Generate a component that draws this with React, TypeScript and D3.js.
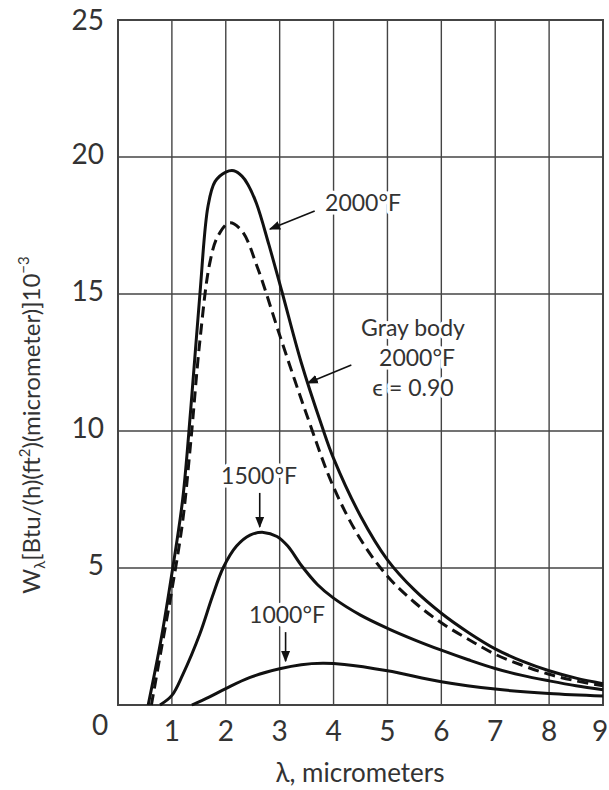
import * as d3 from "d3";

const W = 609;
const H = 790;

// wavelength (micrometers) / W_lambda values (x 10^-3)
const black2000X = [0.56, 0.8, 1.0, 1.2, 1.35, 1.52, 1.67, 1.8, 2.0, 2.15, 2.3, 2.41, 2.57, 2.8, 3.04, 3.4, 3.78, 4.0, 4.5, 5.0, 5.5, 6.0, 6.5, 7.0, 7.5, 8.0, 8.5, 9.0];
const black2000Y = [0, 2.4, 4.8, 7.5, 10.8, 15.0, 18.2, 19.1, 19.45, 19.5, 19.3, 19.0, 18.3, 16.8, 15.1, 12.5, 10.2, 9.0, 6.9, 5.3, 4.2, 3.35, 2.65, 2.05, 1.6, 1.25, 0.98, 0.78];

const gray2000X = [0.62, 0.8, 1.0, 1.2, 1.35, 1.52, 1.7, 1.85, 2.07, 2.3, 2.6, 3.0, 3.5, 4.0, 4.5, 5.0, 5.5, 6.0, 6.5, 7.0, 7.5, 8.0, 8.5, 9.0];
const gray2000Y = [0, 2.0, 4.2, 6.7, 9.6, 13.3, 16.1, 17.1, 17.6, 17.3, 15.9, 13.5, 10.6, 7.95, 6.05, 4.7, 3.75, 3.0, 2.4, 1.85, 1.45, 1.12, 0.88, 0.7];

const black1500X = [0.78, 1.0, 1.2, 1.52, 1.75, 1.95, 2.2, 2.45, 2.7, 2.95, 3.15, 3.4, 3.7, 4.0, 4.5, 5.0, 5.5, 6.0, 6.5, 7.0, 7.5, 8.0, 8.5, 9.0];
const black1500Y = [0, 0.35, 1.1, 2.6, 3.95, 5.0, 5.8, 6.2, 6.3, 6.15, 5.8, 5.1, 4.4, 3.9, 3.28, 2.8, 2.38, 2.0, 1.65, 1.33, 1.08, 0.88, 0.7, 0.56];

const black1000X = [1.37, 1.7, 2.0, 2.44, 3.0, 3.4, 3.8, 4.2, 5.0, 6.0, 7.0, 8.0, 9.0];
const black1000Y = [0, 0.3, 0.6, 1.0, 1.32, 1.47, 1.52, 1.48, 1.25, 0.85, 0.58, 0.42, 0.33];

const xTicks = [1, 2, 3, 4, 5, 6, 7, 8, 9];
const yTicks = [5, 10, 15, 20, 25];
const xGrid = [1, 2, 3, 4, 5, 6, 7, 8];
const yGrid = [5, 10, 15, 20];

const font = "Lato, 'Open Sans', sans-serif";

const x = d3.scaleLinear().domain([0, 9]).range([118, 603]);
const y = d3.scaleLinear().domain([0, 25]).range([705, 20]);

const line = d3
  .line<[number, number]>()
  .x((d) => x(d[0]))
  .y((d) => y(d[1]))
  .curve(d3.curveCatmullRom.alpha(0.5));

const pts = (xs: number[], ys: number[]) => xs.map((v, i) => [v, ys[i]] as [number, number]);

// arrows: [fromX, fromY, toX, toY] in data units
const arrows = [
  [3.65, 18.03, 2.82, 17.37],
  [4.33, 12.41, 3.52, 11.75],
  [2.63, 7.74, 2.63, 6.5],
  [3.11, 2.66, 3.11, 1.6],
];

const haloText = {
  stroke: "#fff",
  strokeWidth: 7,
  paintOrder: "stroke" as const,
  strokeLinejoin: "round" as const,
};

export default function App() {
  return (
    <svg
      width={W}
      height={H}
      style={{ position: "absolute", left: 0, top: 0, background: "#fff" }}
      fontFamily={font}
    >
      <defs>
        <marker id="ah" viewBox="0 0 10 10" refX="9" refY="5" markerWidth="7" markerHeight="7" orient="auto">
          <path d="M0,1 L10,5 L0,9 Z" fill="#111" />
        </marker>
      </defs>

      {/* grid */}
      <g stroke="#444" strokeWidth={1.4}>
        {xGrid.map((t) => (
          <line key={"gx" + t} x1={x(t)} x2={x(t)} y1={y(0)} y2={y(25)} />
        ))}
        {yGrid.map((t) => (
          <line key={"gy" + t} x1={x(0)} x2={x(9)} y1={y(t)} y2={y(t)} />
        ))}
      </g>
      <rect x={x(0)} y={y(25)} width={x(9) - x(0)} height={y(0) - y(25)} fill="none" stroke="#444" strokeWidth={2} />

      {/* labels that break the grid */}
      <g fontSize={23} fill="#333" textAnchor="middle" style={haloText}>
        <text x={363} y={205} dominantBaseline="middle">2000°F</text>
        <text x={413} y={330} dominantBaseline="middle">Gray body</text>
        <text x={417} y={360} dominantBaseline="middle">2000°F</text>
        <text x={413} y={390} dominantBaseline="middle">ϵ = 0.90</text>
        <text x={259} y={478} dominantBaseline="middle">1500°F</text>
        <text x={287} y={617} dominantBaseline="middle">1000°F</text>
      </g>

      {/* curves */}
      <g fill="none" stroke="#111" strokeWidth={3}>
        <path d={line(pts(black2000X, black2000Y)) ?? ""} />
        <path d={line(pts(gray2000X, gray2000Y)) ?? ""} strokeDasharray="11 6" />
        <path d={line(pts(black1500X, black1500Y)) ?? ""} />
        <path d={line(pts(black1000X, black1000Y)) ?? ""} />
      </g>

      {/* arrows */}
      <g stroke="#111" strokeWidth={1.6}>
        {arrows.map((a, i) => (
          <line key={i} x1={x(a[0])} y1={y(a[1])} x2={x(a[2])} y2={y(a[3])} markerEnd="url(#ah)" />
        ))}
      </g>

      {/* tick labels */}
      <g fontSize={28} fill="#333">
        {yTicks.map((t) => (
          <text key={"ty" + t} x={104} y={t === 25 ? y(t) + 3 : y(t)} textAnchor="end" dominantBaseline="middle">
            {t}
          </text>
        ))}
        <text x={100} y={728} textAnchor="middle" dominantBaseline="middle">0</text>
        {xTicks.map((t) => (
          <text key={"tx" + t} x={t === 9 ? x(t) - 3 : x(t)} y={734} textAnchor="middle" dominantBaseline="middle">
            {t}
          </text>
        ))}
      </g>

      {/* axis titles */}
      <text x={360} y={775} fontSize={26} fill="#333" textAnchor="middle" dominantBaseline="middle">
        λ, micrometers
      </text>
      <text
        transform="translate(40,425) rotate(-90)"
        fontSize={24}
        fill="#333"
        textAnchor="middle"
      >
        <tspan>W</tspan>
        <tspan fontSize={15} dy={5}>λ</tspan>
        <tspan dy={-5}>[Btu/(h)(ft</tspan>
        <tspan fontSize={15} dy={-10}>2</tspan>
        <tspan dy={10}>)(micrometer)]10</tspan>
        <tspan fontSize={15} dy={-11}>−3</tspan>
      </text>
    </svg>
  );
}
